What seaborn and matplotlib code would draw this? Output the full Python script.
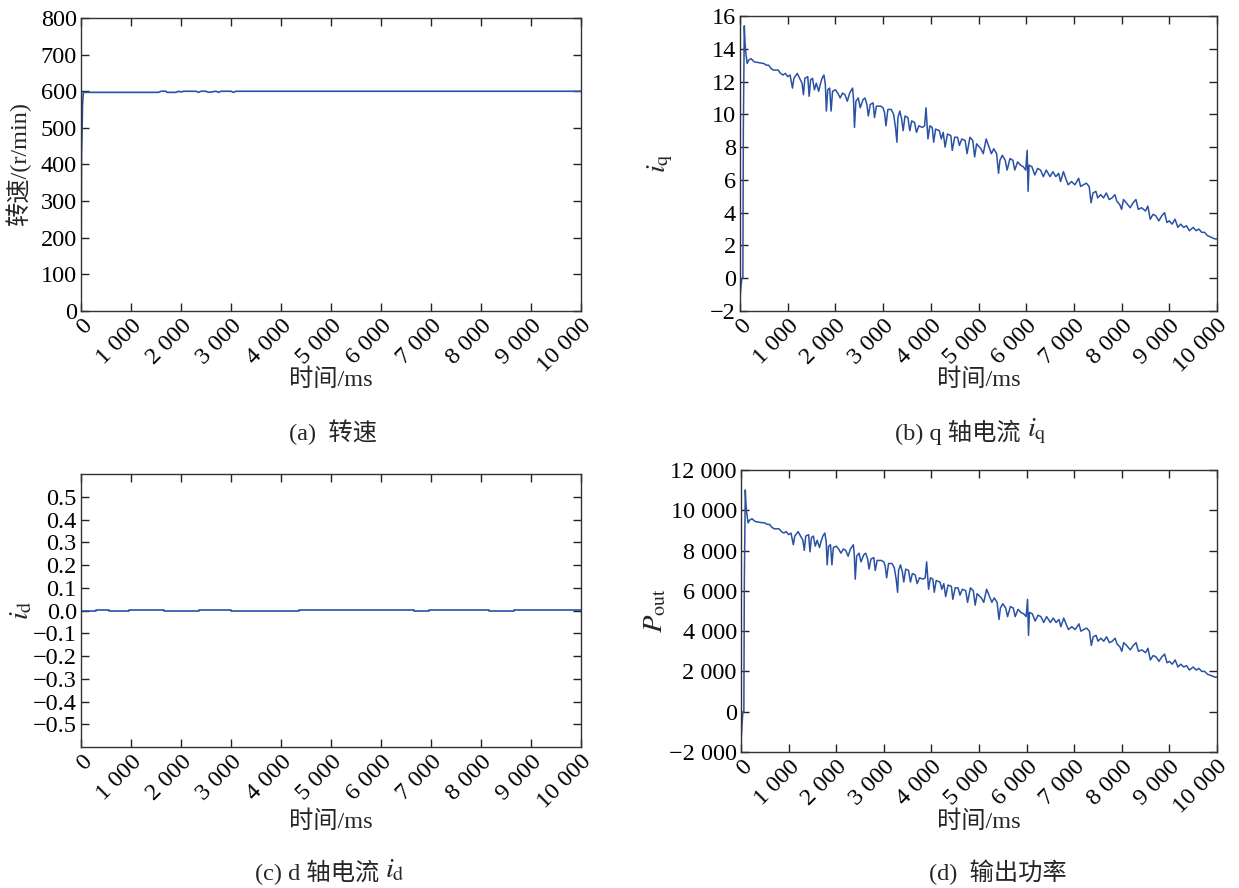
import matplotlib
matplotlib.use("Agg")
import matplotlib.pyplot as plt
import seaborn as sns
import pandas as pd
from matplotlib.ticker import FixedLocator, FixedFormatter

# ---------------- data ----------------
t_ms = [0, 20, 40, 60, 70, 90, 105, 120, 150, 180,
        230, 300, 400, 500, 550, 600, 650, 700, 800, 850,
        900, 950, 1000, 1050, 1080, 1100, 1130, 1200, 1250, 1300,
        1330, 1360, 1420, 1450, 1480, 1520, 1560, 1600, 1650, 1680,
        1720, 1760, 1790, 1810, 1840, 1880, 1910, 1940, 2000, 2050,
        2100, 2150, 2200, 2250, 2300, 2360, 2380, 2400, 2430, 2480,
        2520, 2580, 2620, 2660, 2690, 2730, 2790, 2820, 2860, 2950,
        3000, 3030, 3060, 3100, 3170, 3220, 3260, 3290, 3310, 3350,
        3390, 3420, 3460, 3520, 3560, 3600, 3660, 3700, 3750, 3820,
        3870, 3900, 3920, 3940, 3980, 4030, 4060, 4100, 4180, 4220,
        4260, 4300, 4350, 4420, 4450, 4500, 4560, 4600, 4650, 4720,
        4760, 4820, 4880, 4920, 4960, 5050, 5100, 5160, 5220, 5270,
        5320, 5380, 5420, 5450, 5500, 5560, 5600, 5660, 5720, 5760,
        5820, 5880, 5940, 5990, 6020, 6040, 6060, 6120, 6180, 6240,
        6300, 6360, 6420, 6500, 6560, 6620, 6680, 6720, 6780, 6840,
        6880, 6950, 7020, 7100, 7140, 7200, 7260, 7320, 7360, 7400,
        7460, 7500, 7560, 7620, 7680, 7740, 7800, 7860, 7900, 7960,
        8000, 8040, 8100, 8180, 8240, 8300, 8350, 8420, 8500, 8550,
        8600, 8660, 8720, 8780, 8840, 8900, 8950, 9000, 9060, 9120,
        9180, 9240, 9300, 9360, 9420, 9500, 9560, 9620, 9680, 9740,
        9800, 9880, 9950, 10000]

iq = [-1.2, -0.5, 0.0, 0.0, 9.0, 15.4, 14.4, 13.8, 13.1, 13.3,
      13.4, 13.2, 13.15, 13.1, 13.0, 13.0, 12.8, 12.7, 12.7, 12.5,
      12.4, 12.5, 12.3, 12.4, 11.9, 11.6, 12.2, 12.5, 12.2, 11.9,
      11.2, 12.2, 12.3, 11.1, 12.1, 12.2, 11.5, 11.9, 11.4, 11.8,
      12.2, 12.4, 11.8, 10.2, 11.5, 11.6, 10.2, 11.4, 11.5, 11.3,
      11.0, 11.3, 11.2, 10.8, 11.3, 11.6, 10.9, 9.2, 10.8, 11.0,
      10.4, 10.9, 11.0, 10.6, 9.9, 10.6, 10.7, 9.8, 10.5, 10.5,
      10.4, 10.1, 9.3, 10.3, 10.3, 10.0, 9.2, 8.3, 9.8, 10.2,
      9.7, 9.0, 9.9, 9.8, 9.0, 9.6, 9.5, 8.9, 9.3, 9.2,
      9.3, 10.4, 9.5, 8.5, 9.3, 9.2, 8.3, 9.1, 9.0, 8.5,
      8.9, 8.0, 8.8, 8.7, 7.8, 8.6, 8.6, 8.1, 8.5, 8.4,
      7.6, 8.6, 8.4, 7.4, 8.2, 7.9, 7.6, 8.5, 8.0, 7.6,
      7.9, 7.6, 6.4, 7.2, 7.5, 7.2, 6.6, 7.3, 7.2, 6.6,
      7.1, 6.9, 6.8, 6.6, 7.8, 5.3, 6.9, 6.8, 6.3, 6.7,
      6.6, 6.2, 6.6, 6.2, 6.5, 6.2, 6.4, 5.9, 6.5, 6.0,
      5.7, 5.9, 5.7, 6.1, 5.6, 5.7, 5.8, 5.6, 4.6, 5.2,
      5.3, 4.9, 5.1, 4.9, 5.2, 4.8, 4.9, 5.1, 4.7, 4.5,
      4.2, 4.8, 4.6, 4.3, 4.6, 4.8, 4.2, 4.3, 4.1, 4.4,
      3.6, 3.9, 3.8, 3.5, 3.8, 4.0, 3.4, 3.5, 3.3, 3.6,
      3.1, 3.3, 3.1, 3.2, 2.9, 3.1, 2.9, 3.0, 2.8, 2.8,
      2.6, 2.5, 2.4, 2.4]

pout = [-1500, -700, 0, 0, 6400, 11010, 10300, 9870, 9370, 9510,
        9580, 9440, 9400, 9370, 9300, 9300, 9150, 9080, 9080, 8940,
        8870, 8940, 8790, 8870, 8510, 8290, 8720, 8940, 8720, 8510,
        8010, 8720, 8790, 7940, 8650, 8720, 8220, 8510, 8150, 8440,
        8720, 8870, 8440, 7290, 8220, 8290, 7290, 8150, 8220, 8080,
        7870, 8080, 8010, 7720, 8080, 8290, 7790, 6580, 7720, 7870,
        7440, 7790, 7870, 7580, 7080, 7580, 7650, 7010, 7510, 7510,
        7440, 7220, 6650, 7360, 7360, 7150, 6580, 5930, 7010, 7290,
        6940, 6440, 7080, 7010, 6440, 6860, 6790, 6360, 6650, 6580,
        6650, 7440, 6790, 6080, 6650, 6580, 5930, 6510, 6440, 6080,
        6360, 5720, 6290, 6220, 5580, 6150, 6150, 5790, 6080, 6010,
        5430, 6150, 6010, 5290, 5860, 5650, 5430, 6080, 5720, 5430,
        5650, 5430, 4580, 5150, 5360, 5150, 4720, 5220, 5150, 4720,
        5080, 4930, 4860, 4720, 5580, 3790, 4930, 4860, 4500, 4790,
        4720, 4430, 4720, 4430, 4650, 4430, 4580, 4220, 4650, 4290,
        4080, 4220, 4080, 4360, 4000, 4080, 4150, 4000, 3290, 3720,
        3790, 3500, 3650, 3500, 3720, 3430, 3500, 3650, 3360, 3220,
        3000, 3430, 3290, 3070, 3290, 3430, 3000, 3070, 2930, 3150,
        2570, 2790, 2720, 2500, 2720, 2860, 2430, 2500, 2360, 2570,
        2220, 2360, 2220, 2290, 2070, 2220, 2070, 2150, 2000, 2000,
        1860, 1790, 1720, 1720]

speed_t = [0, 5, 10, 20, 30, 45, 60, 1550, 1600, 1700, 1720, 1900, 1950, 2000,
           2050, 2100, 2300, 2350, 2400, 2500, 2550, 2700, 2750, 2800, 3000,
           3050, 3100, 3200, 3250, 10000]
speed = [0, 250, 430, 480, 560, 595, 597, 597, 600, 600, 597, 597, 600, 598,
         600, 600, 600, 597, 600, 600, 597, 600, 597, 600, 600, 597, 600, 600,
         600, 600]

id_t = [0, 250, 300, 500, 550, 900, 950, 1600, 1650, 2300, 2350, 2900, 3000,
        3800, 3850, 4300, 4350, 6600, 6650, 6900, 6950, 8100, 8150, 8600, 8650,
        9200, 9250, 10000]
id_v = [-0.003, -0.003, 0.002, 0.002, -0.002, -0.002, 0.002, 0.002, -0.003,
        -0.003, 0.002, 0.002, -0.002, -0.002, -0.004, -0.004, 0.002, 0.002,
        -0.002, -0.002, 0.002, 0.002, -0.003, -0.003, 0.002, 0.002, 0.003, 0.003]

x_ticks = [0, 1000, 2000, 3000, 4000, 5000, 6000, 7000, 8000, 9000, 10000]
x_labels = ["0", "1 000", "2 000", "3 000", "4 000", "5 000", "6 000",
            "7 000", "8 000", "9 000", "10 000"]

a_yticks = [0, 100, 200, 300, 400, 500, 600, 700, 800]
b_yticks = [-2, 0, 2, 4, 6, 8, 10, 12, 14, 16]
c_yticks = [-0.5, -0.4, -0.3, -0.2, -0.1, 0.0, 0.1, 0.2, 0.3, 0.4, 0.5]
c_ylabels = ["\u22120.5", "\u22120.4", "\u22120.3", "\u22120.2", "\u22120.1",
             "0.0", "0.1", "0.2", "0.3", "0.4", "0.5"]
d_yticks = [-2000, 0, 2000, 4000, 6000, 8000, 10000, 12000]
d_ylabels = ["\u22122 000", "0", "2 000", "4 000", "6 000", "8 000",
             "10 000", "12 000"]

# caption: (plain text part, math part)
captions = [("(a)  转速", ""), ("(b) q 轴电流 ", "$i_{\\mathrm{q}}$"),
            ("(c) d 轴电流 ", "$i_{\\mathrm{d}}$"), ("(d)  输出功率", "")]

# ---------------- style ----------------
sns.set_style("ticks")
plt.rcParams["font.family"] = ["Liberation Serif", "Noto Sans CJK SC"]
plt.rcParams["mathtext.fontset"] = "stix"
plt.rcParams["axes.unicode_minus"] = True
FS = 17.5
LINE = "#2a52a4"

fig = plt.figure(figsize=(12.39, 8.88), dpi=100)
fig.patch.set_facecolor("white")

W, H = 1239, 888


def add_axes(left, right, top, bottom):
    return fig.add_axes([left / W, 1 - bottom / H, (right - left) / W,
                         (bottom - top) / H])


ax_a = add_axes(81, 581, 18, 311)
ax_b = add_axes(740, 1217, 16, 311)
ax_c = add_axes(81, 581, 474, 747)
ax_d = add_axes(741, 1217, 470, 752)

df_b = pd.DataFrame({"t": t_ms, "iq": iq, "pout": pout})
df_a = pd.DataFrame({"t": speed_t, "v": speed})
df_c = pd.DataFrame({"t": id_t, "v": id_v})

sns.lineplot(data=df_a, x="t", y="v", ax=ax_a, color=LINE, linewidth=1.2,
             estimator=None, sort=False)
sns.lineplot(data=df_b, x="t", y="iq", ax=ax_b, color=LINE, linewidth=1.1,
             estimator=None, sort=False)
sns.lineplot(data=df_c, x="t", y="v", ax=ax_c, color=LINE, linewidth=1.2,
             drawstyle="steps-post", estimator=None, sort=False)
sns.lineplot(data=df_b, x="t", y="pout", ax=ax_d, color=LINE, linewidth=1.1,
             estimator=None, sort=False)

setups = [
    (ax_a, (0, 800), a_yticks, [str(v) for v in a_yticks], "转速/(r/min)", -0.126),
    (ax_b, (-2, 16), b_yticks, [str(v).replace("-", "\u2212") for v in b_yticks],
     "$i_{\\mathrm{q}}$", -0.168),
    (ax_c, (-0.6, 0.6), c_yticks, c_ylabels, "$i_{\\mathrm{d}}$", -0.118),
    (ax_d, (-2000, 12000), d_yticks, d_ylabels, "$P_{\\mathrm{out}}$", -0.18),
]
xlabel_y = [-0.235, -0.234, -0.275, -0.248]

for (ax, ylim, yt, yl, ylab, ylx), xly in zip(setups, xlabel_y):
    ax.set_xlim(0, 10000)
    ax.set_ylim(*ylim)
    ax.xaxis.set_major_locator(FixedLocator(x_ticks))
    ax.xaxis.set_major_formatter(FixedFormatter(x_labels))
    ax.yaxis.set_major_locator(FixedLocator(yt))
    ax.yaxis.set_major_formatter(FixedFormatter(yl))
    ax.tick_params(direction="in", length=6, width=1.0, top=True, right=True,
                   labelsize=FS, colors="#222222", labelcolor="black", pad=3)
    for lab in ax.get_xticklabels():
        lab.set_rotation(45)
        lab.set_ha("right")
        lab.set_va("top")
        lab.set_rotation_mode("anchor")
    for s in ax.spines.values():
        s.set_visible(True)
        s.set_linewidth(1.0)
        s.set_color("#333333")
    ax.set_facecolor("white")
    ax.set_xlabel("时间/ms", fontsize=FS)
    ax.xaxis.label.set_va("center")
    ax.xaxis.set_label_coords(0.5, xly)
    ax.set_ylabel(ylab, fontsize=FS + (3 if "$" in ylab else 0))
    ax.yaxis.label.set_va("center")
    ax.yaxis.set_label_coords(ylx, 0.5)

# captions: plain part + math part placed side by side, centred as a group
renderer = fig.canvas.get_renderer()
cap_pos = [(333, 432), (971, 432), (330, 872), (998, 872)]
for (cx, cy), (plain, math) in zip(cap_pos, captions):
    t1 = fig.text(0, 1 - cy / H, plain, ha="left", va="center", fontsize=FS)
    w1 = t1.get_window_extent(renderer).width
    w2 = 0
    t2 = None
    if math:
        t2 = fig.text(0, 1 - cy / H, math, ha="left", va="center",
                      fontsize=FS + 3)
        w2 = t2.get_window_extent(renderer).width
    x0 = cx - (w1 + w2) / 2
    t1.set_x(x0 / W)
    if t2 is not None:
        t2.set_x((x0 + w1) / W)
        t2.set_y(1 - (cy - 1) / H)

fig.savefig("out.png", dpi=100, facecolor="white")
